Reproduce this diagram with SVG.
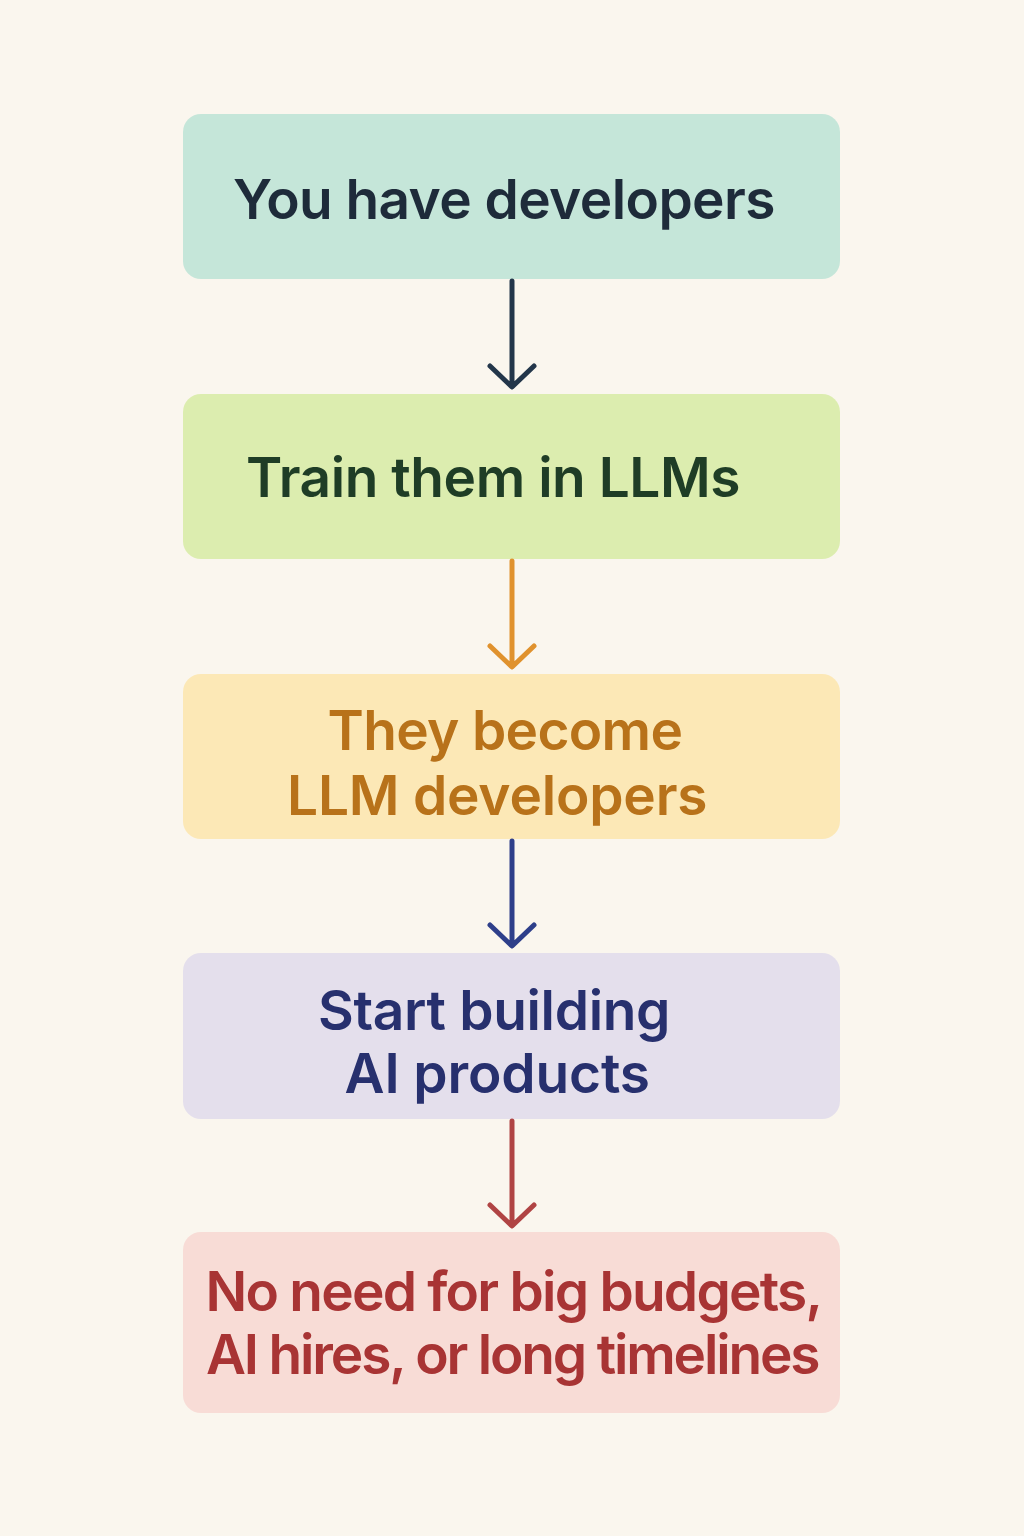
<svg xmlns="http://www.w3.org/2000/svg" width="1024" height="1536" viewBox="0 0 1024 1536">
<style>
.box{stroke:none}
.t{font-family:Inter,"Noto Sans","Liberation Sans",sans-serif;font-weight:600;font-size:55px;text-anchor:middle;letter-spacing:-0.5px}
.c{fill:none;stroke-width:5;stroke-linecap:round;stroke-linejoin:round}
</style>
<rect width="1024" height="1536" fill="#FAF6EE"/>
<g id="n1"><rect class="box" x="183" y="114" width="657" height="165" rx="18" fill="#C5E6D9"/><text class="t" x="504" y="219" fill="#1E2B3A" textLength="542" lengthAdjust="spacing">You have developers</text></g>
<g id="n2"><rect class="box" x="183" y="394" width="657" height="165" rx="18" fill="#DCEDAF"/><text class="t" x="493" y="497" fill="#1F3D26" textLength="494" lengthAdjust="spacing">Train them in LLMs</text></g>
<g id="n3"><rect class="box" x="183" y="674" width="657" height="165" rx="18" fill="#FCE8B6"/><text class="t" fill="#B8721A"><tspan x="505" y="750" textLength="355" lengthAdjust="spacing">They become</tspan><tspan x="497" y="815" textLength="420" lengthAdjust="spacing">LLM developers</tspan></text></g>
<g id="n4"><rect class="box" x="183" y="953" width="657" height="166" rx="18" fill="#E4DFEC"/><text class="t" fill="#27306E"><tspan x="494" y="1030" textLength="352" lengthAdjust="spacing">Start building</tspan><tspan x="497" y="1093" textLength="305" lengthAdjust="spacing">AI products</tspan></text></g>
<g id="n5"><rect class="box" x="183" y="1232" width="657" height="181" rx="18" fill="#F8DCD6"/><text class="t" fill="#A83434"><tspan x="514" y="1311" textLength="617" lengthAdjust="spacing">No need for big budgets,</tspan><tspan x="513" y="1374" textLength="614" lengthAdjust="spacing">AI hires, or long timelines</tspan></text></g>
<g id="connectors">
<path class="c" stroke="#23364A" d="M512 281V385M490 366L512 387L534 366"/>
<path class="c" stroke="#E0922E" d="M512 561V665M490 646L512 667L534 646"/>
<path class="c" stroke="#2E3F8A" d="M512 841V944M490 925L512 946L534 925"/>
<path class="c" stroke="#B04444" d="M512 1121V1224M490 1205L512 1226L534 1205"/>
</g>
</svg>
